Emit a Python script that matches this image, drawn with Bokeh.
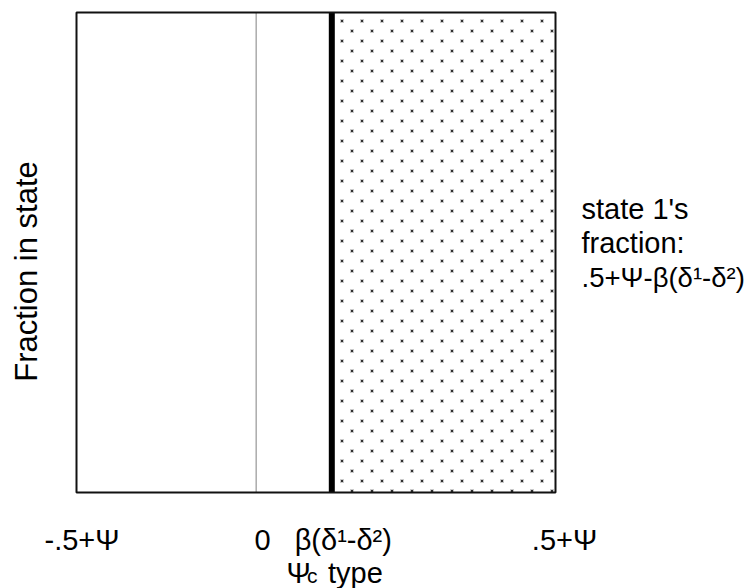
import math, zlib, struct, base64
from bokeh.plotting import figure
from bokeh.models import Label, Range1d, ImageURLTexture
from bokeh.core.properties import value
from bokeh.embed import file_html
from bokeh.resources import INLINE

# ---- data ----
psi = 0.125            # Ψ  (x axis runs from -.5+Ψ to .5+Ψ)
beta_delta = 0.158     # β(δ¹-δ²), the cut-off type
y_bottom, y_top = 0.0, 1.0   # fraction in state

tick_values = [psi - 0.5, 0.0, beta_delta, psi + 0.5]
tick_labels = ["-.5+Ψ", "0", "β(δ¹-δ²)", ".5+Ψ"]
state1_lines = ["state 1's", "fraction:", ".5+Ψ-β(δ¹-δ²)"]
x_title_parts = ["Ψ", "c", "type"]
y_title = "Fraction in state"

# ---- layout / styling ----
FONT = "Liberation Sans"
FS = "29px"
tick_dx = [5.5, 6.5, 11.5, 9.0]
W, H = 755, 588
FL, FR, FT, FB = 76, 555, 12, 492      # pixel box of the plotting area
ux, uy = (FR - FL), (FB - FT)
xr = Range1d(psi - 0.5 - FL / ux, psi + 0.5 + (W - FR) / ux)
yr = Range1d(y_bottom - (H - FB) / uy, y_top + FT / uy)

p = figure(width=W, height=H, x_range=xr, y_range=yr,
           output_backend="svg", toolbar_location=None, min_border=0)
p.axis.visible = False
p.grid.visible = False
p.outline_line_color = None
p.background_fill_color = "white"
p.border_fill_color = "white"

# stipple texture: small staggered dots
def make_png(w, h, dots):
    px = [[(0, 0, 0, 0)] * w for _ in range(h)]
    for (cx, cy) in dots:
        for dy in (-1, 0, 1, 2):
            for dx in (-1, 0, 1, 2):
                core = dx in (0, 1) and dy in (0, 1)
                a = 240 if core else 60
                x, y = (cx + dx) % w, (cy + dy) % h
                if px[y][x][3] < a:
                    px[y][x] = (35, 35, 35, a)
    raw = b"".join(b"\x00" + bytes(c for p_ in row for c in p_) for row in px)
    def chunk(t, d):
        c = struct.pack(">I", len(d)) + t + d
        return c + struct.pack(">I", zlib.crc32(t + d) & 0xffffffff)
    return (b"\x89PNG\r\n\x1a\n"
            + chunk(b"IHDR", struct.pack(">IIBBBBB", w, h, 8, 6, 0, 0, 0))
            + chunk(b"IDAT", zlib.compress(raw))
            + chunk(b"IEND", b""))

png = make_png(20, 20, [(1, 0), (11, 10)])
stipple = ImageURLTexture(url="data:image/png;base64," + base64.b64encode(png).decode(),
                          repetition="repeat")

# state 1's region (stippled)
p.quad(left=[beta_delta], right=[psi + 0.5], bottom=[y_bottom], top=[y_top],
       fill_alpha=0, line_color=None,
       hatch_pattern=value("stipple"), hatch_extra={"stipple": stipple})

p.segment(x0=[0.0], y0=[y_bottom], x1=[0.0], y1=[y_top],
          line_color="black", line_width=1, line_dash="1 1")
p.segment(x0=[beta_delta], y0=[y_bottom], x1=[beta_delta], y1=[y_top],
          line_color="black", line_width=6)
p.quad(left=[psi - 0.5], right=[psi + 0.5], bottom=[y_bottom], top=[y_top],
       fill_color=None, line_color="#111111", line_width=2)

def lab(**kw):
    kw.setdefault("text_font", FONT)
    kw.setdefault("text_font_size", FS)
    kw.setdefault("text_color", "black")
    p.add_layout(Label(**kw))

for tv, tl, dx in zip(tick_values, tick_labels, tick_dx):
    lab(x=tv, y=y_bottom, text=tl, x_offset=dx, y_offset=-47,
        text_align="center", text_baseline="alphabetic")

lab(x=psi, y=y_bottom, text=x_title_parts[0], x_offset=-29.5, y_offset=-80,
    text_align="left", text_baseline="alphabetic")
lab(x=psi, y=y_bottom, text=x_title_parts[1], x_offset=-9, y_offset=-83,
    text_align="left", text_baseline="alphabetic", text_font_size="21px")
lab(x=psi, y=y_bottom, text=x_title_parts[2], x_offset=12, y_offset=-80,
    text_align="left", text_baseline="alphabetic")

lab(x=psi - 0.5, y=0.5, text=y_title, x_offset=-50, y_offset=-19,
    angle=math.pi / 2, text_align="center", text_baseline="alphabetic",
    text_font_size="31px")

for i, line in enumerate(state1_lines):
    lab(x=psi + 0.5, y=y_top, text=line, x_offset=26, y_offset=-(196 + 34.5 * i),
        text_align="left", text_baseline="alphabetic",
        text_font_size=("27.5px" if i == 2 else FS))

open("out.html", "w").write(file_html(p, INLINE))
